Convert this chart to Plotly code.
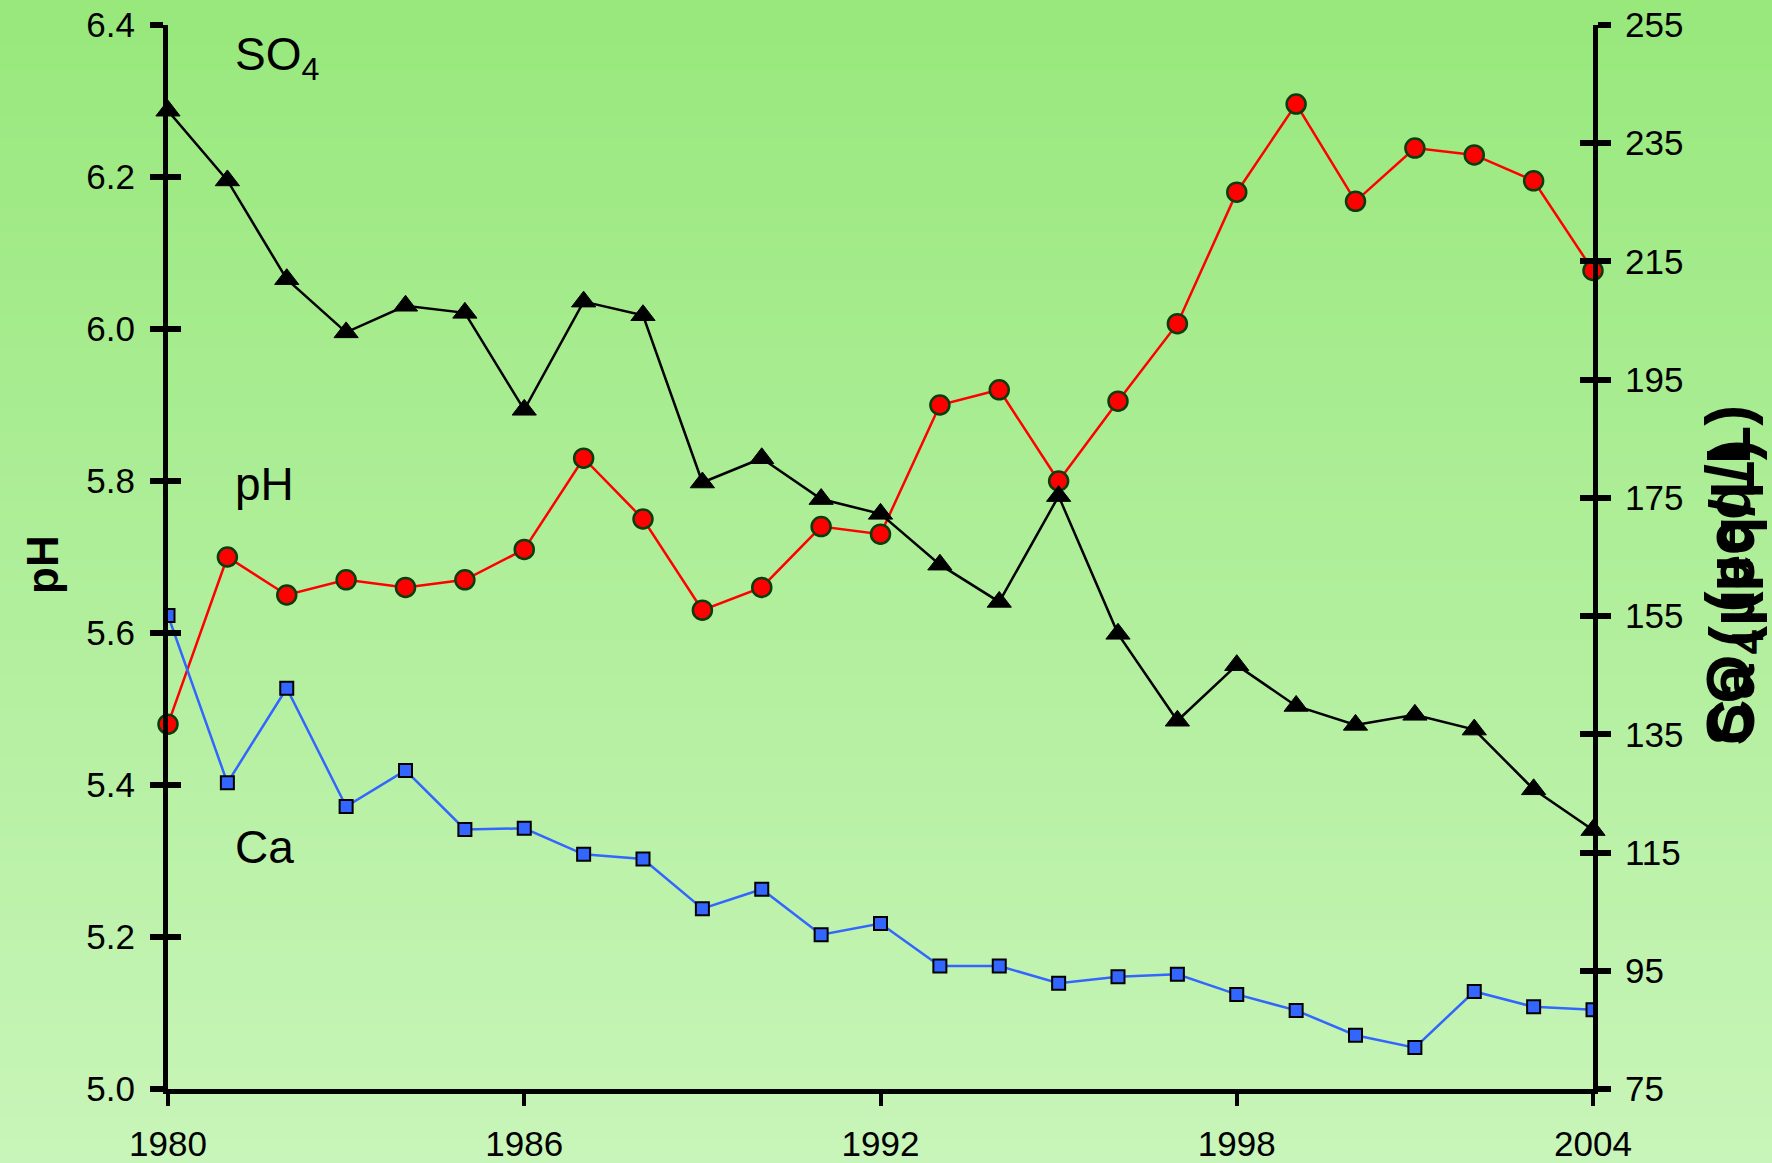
import plotly.graph_objects as go

# ---- data ----
years = list(range(1980, 2005))
ph = [5.48, 5.70, 5.65, 5.67, 5.66, 5.67, 5.71, 5.83, 5.75, 5.63, 5.66, 5.74, 5.73,
      5.90, 5.92, 5.80, 5.905, 6.007, 6.18, 6.296, 6.168, 6.238, 6.229, 6.195, 6.077]
so4 = [240.5, 228.7, 212.0, 203.0, 207.5, 206.3, 189.9, 208.2, 205.9, 177.6, 181.7, 174.8, 172.3,
       163.7, 157.4, 175.3, 152.0, 137.3, 146.7, 139.8, 136.6, 138.3, 135.8, 125.7, 118.8]
ca = [155.1, 126.8, 142.8, 122.8, 128.9, 118.9, 119.1, 114.7, 113.9, 105.5, 108.8, 101.1, 103.0,
      95.8, 95.8, 92.9, 94.0, 94.4, 91.0, 88.3, 84.1, 82.0, 91.5, 88.9, 88.4]
x_ticks = [1980, 1986, 1992, 1998, 2004]
ph_ticks = [5.0, 5.2, 5.4, 5.6, 5.8, 6.0, 6.2, 6.4]
ueq_ticks = [75, 95, 115, 135, 155, 175, 195, 215, 235, 255]

FONT = "Liberation Sans"
W, H = 1772, 1163
ML, MR, MT, MB = 168, 179, 25, 74
PW, PH = W - ML - MR, H - MT - MB

fig = go.Figure()
fig.add_trace(go.Scatter(x=years, y=so4, yaxis="y2", mode="lines+markers", name="SO4",
                         line=dict(color="black", width=2.5),
                         marker=dict(symbol="triangle-up", size=21, color="black",
                                     line=dict(color="black", width=1)),
                         cliponaxis=False, showlegend=False))
fig.add_trace(go.Scatter(x=years, y=ca, yaxis="y2", mode="lines+markers", name="Ca",
                         line=dict(color="#3366FF", width=2.5),
                         marker=dict(symbol="square", size=13, color="#3366FF",
                                     line=dict(color="black", width=2)),
                         cliponaxis=True, showlegend=False))
fig.add_trace(go.Scatter(x=years, y=ph, yaxis="y", mode="lines+markers", name="pH",
                         line=dict(color="#FF0000", width=2.5),
                         marker=dict(symbol="circle", size=19, color="#FF0000",
                                     line=dict(color="#0B3D0B", width=2.5)),
                         cliponaxis=False, showlegend=False))
# dummy traces for overlay tick axes (inner half of the crossing ticks)
fig.add_trace(go.Scatter(x=[1980], y=[5.0], yaxis="y3", mode="none", showlegend=False, hoverinfo="skip"))
fig.add_trace(go.Scatter(x=[1980], y=[75], yaxis="y4", mode="none", showlegend=False, hoverinfo="skip"))

# gradient background
top = (152, 232, 124)
bot = (200, 245, 185)
n = 100
y0p, y1p = -MB / PH, 1 + MT / PH
x0p, x1p = -ML / PW, 1 + MR / PW
shapes = []
for i in range(n):
    t = i / (n - 1)
    c = tuple(round(bot[k] + (top[k] - bot[k]) * t) for k in range(3))
    ya = y0p + (y1p - y0p) * i / n - (0.01 if i == 0 else 0)
    yb = y0p + (y1p - y0p) * (i + 1) / n + (0.01 if i == n - 1 else 0.002)
    shapes.append(dict(type="rect", xref="paper", yref="paper", x0=x0p - 0.01, x1=x1p + 0.01,
                       y0=ya, y1=yb, fillcolor="rgb(%d,%d,%d)" % c, line=dict(width=0),
                       layer="below"))

tickfont = dict(family=FONT, size=35, color="black")
fig.update_layout(
    width=W, height=H,
    margin=dict(l=ML, r=MR, t=MT, b=MB, pad=0, autoexpand=False),
    paper_bgcolor="rgb(176,238,154)",
    plot_bgcolor="rgba(0,0,0,0)",
    shapes=shapes,
    xaxis=dict(range=[1980, 2004], tickvals=x_ticks, ticks="outside", ticklen=12, tickwidth=4,
               tickcolor="black", showline=True, linecolor="black", linewidth=5,
               showgrid=False, zeroline=False, tickfont=tickfont, ticklabelstandoff=8,
               automargin=False),
    yaxis=dict(range=[5.0, 6.4], tickvals=ph_ticks, tickformat=".1f", ticks="outside",
               ticklen=13, tickwidth=6, tickcolor="black", showline=True, linecolor="black",
               linewidth=5, showgrid=False, zeroline=False, tickfont=tickfont,
               ticklabelstandoff=8, automargin=False),
    yaxis2=dict(range=[75, 255], tickvals=ueq_ticks, overlaying="y", side="right", anchor="x",
                ticks="outside", ticklen=13, tickwidth=6, tickcolor="black", showline=True,
                linecolor="black", linewidth=5, showgrid=False, zeroline=False,
                tickfont=tickfont, ticklabelstandoff=7, automargin=False),
    yaxis3=dict(range=[5.0, 6.4], tickvals=ph_ticks, overlaying="y", side="left", anchor="x",
                ticks="inside", ticklen=13, tickwidth=6, tickcolor="black", showline=False,
                showticklabels=False, showgrid=False, zeroline=False, automargin=False),
    yaxis4=dict(range=[75, 255], tickvals=ueq_ticks, overlaying="y", side="right", anchor="x",
                ticks="inside", ticklen=13, tickwidth=6, tickcolor="black", showline=False,
                showticklabels=False, showgrid=False, zeroline=False, automargin=False),
)

def px_x(px):
    return (px - ML) / PW

def px_y(py):
    return (H - MB - py) / PH

ann_font = dict(family=FONT, size=46, color="black")
annotations = [
    dict(text="SO<sub>4</sub>", x=px_x(233), y=px_y(58), xanchor="left", yanchor="middle",
         font=ann_font),
    dict(text="pH", x=px_x(233), y=px_y(484), xanchor="left", yanchor="middle", font=ann_font),
    dict(text="Ca", x=px_x(233), y=px_y(847), xanchor="left", yanchor="middle", font=ann_font),
    dict(text="<b>pH</b>", x=px_x(42), y=px_y(565), xanchor="center", yanchor="middle",
         textangle=-90, font=dict(family=FONT, size=44, color="black")),
    dict(text="<b>SO<sub>4</sub> (µeq/L)</b>", x=px_x(1732), y=px_y(747), xanchor="center",
         yanchor="bottom", textangle=-90, font=dict(family=FONT, size=63, color="black")),
    dict(text="<b>Ca (µeq/L)</b>", x=px_x(1732), y=px_y(747), xanchor="center",
         yanchor="bottom", textangle=-90, font=dict(family=FONT, size=63, color="black")),
]
for a in annotations:
    a.update(xref="paper", yref="paper", showarrow=False)
fig.update_layout(annotations=annotations)

fig.write_html("out.html", config={"displayModeBar": False},
               post_script="document.body.style.margin='0px';")
